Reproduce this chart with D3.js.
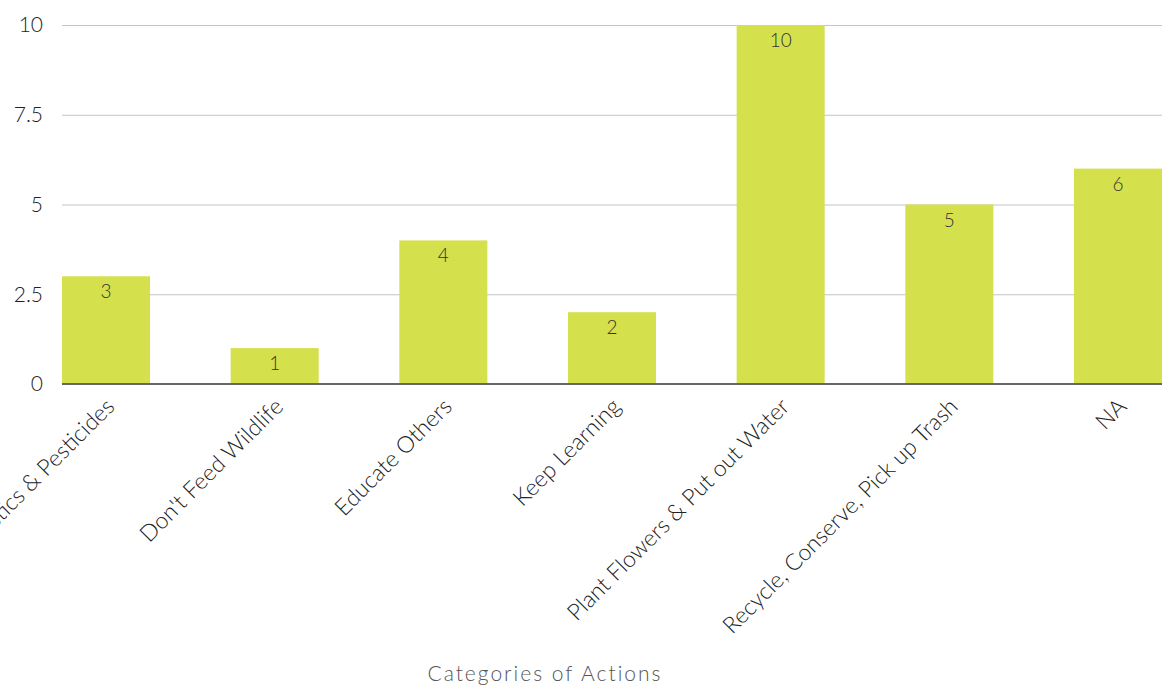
<!DOCTYPE html>
<html><head><meta charset="utf-8">
<script src="https://cdn.jsdelivr.net/npm/d3@7"></script>
<style>
body{margin:0;background:#fff;overflow:hidden}
text{font-family:Lato,"Open Sans",sans-serif;font-weight:300}
</style></head><body>
<svg id="c" width="1162" height="687"></svg>
<script>
const categories = ["Reduce Plastics & Pesticides","Don't Feed Wildlife","Educate Others","Keep Learning","Plant Flowers & Put out Water","Recycle, Conserve, Pick up Trash","NA"];
const values = [3,1,4,2,10,5,6];
const yTicks = [0,2.5,5,7.5,10];
const yTickLabels = ["0","2.5","5","7.5","10"];
const xTitle = "Categories of Actions";

const svg = d3.select("#c");
const x = d3.scaleBand().domain(categories).range([62,1162]).paddingInner(0.478).paddingOuter(0);
const y = d3.scaleLinear().domain([0,10]).range([384,25]);

// gridlines
svg.append("g").selectAll("line").data(yTicks.filter(d=>d>0)).join("line")
  .attr("x1",62).attr("x2",1162).attr("y1",d=>y(d)+0.5).attr("y2",d=>y(d)+0.5)
  .attr("stroke","#c4c4c4").attr("stroke-width",1);

// y labels
svg.append("g").selectAll("text").data(yTicks).join("text")
  .attr("x",43).attr("y",d=>y(d)).attr("dy","0.35em").attr("text-anchor","end")
  .attr("font-size",21).attr("fill","#222").text((d,i)=>yTickLabels[i]);

// bars
svg.append("g").selectAll("rect").data(values).join("rect")
  .attr("x",(d,i)=>x(categories[i])).attr("width",x.bandwidth())
  .attr("y",d=>y(d)).attr("height",d=>y(0)-y(d)).attr("fill","#d5e04d");

// baseline
svg.append("line").attr("x1",62).attr("x2",1162).attr("y1",y(0)).attr("y2",y(0))
  .attr("stroke","#666").attr("stroke-width",2);

// value labels
svg.append("g").selectAll("text").data(values).join("text")
  .attr("x",(d,i)=>x(categories[i])+x.bandwidth()/2).attr("y",d=>y(d)+22)
  .attr("text-anchor","middle").attr("font-size",19).attr("fill","#333").text(d=>d);

// category labels
svg.append("g").selectAll("text").data(categories).join("text")
  .attr("transform",d=>`translate(${x(d)+x.bandwidth()/2+10},408) rotate(-45)`)
  .attr("text-anchor","end").attr("font-size",23).attr("fill","#222").text(d=>d);

// x title
svg.append("text").attr("x",545).attr("y",681).attr("text-anchor","middle")
  .attr("font-size",21).attr("fill","#555").attr("letter-spacing","2px").text(xTitle);
</script></body></html>
